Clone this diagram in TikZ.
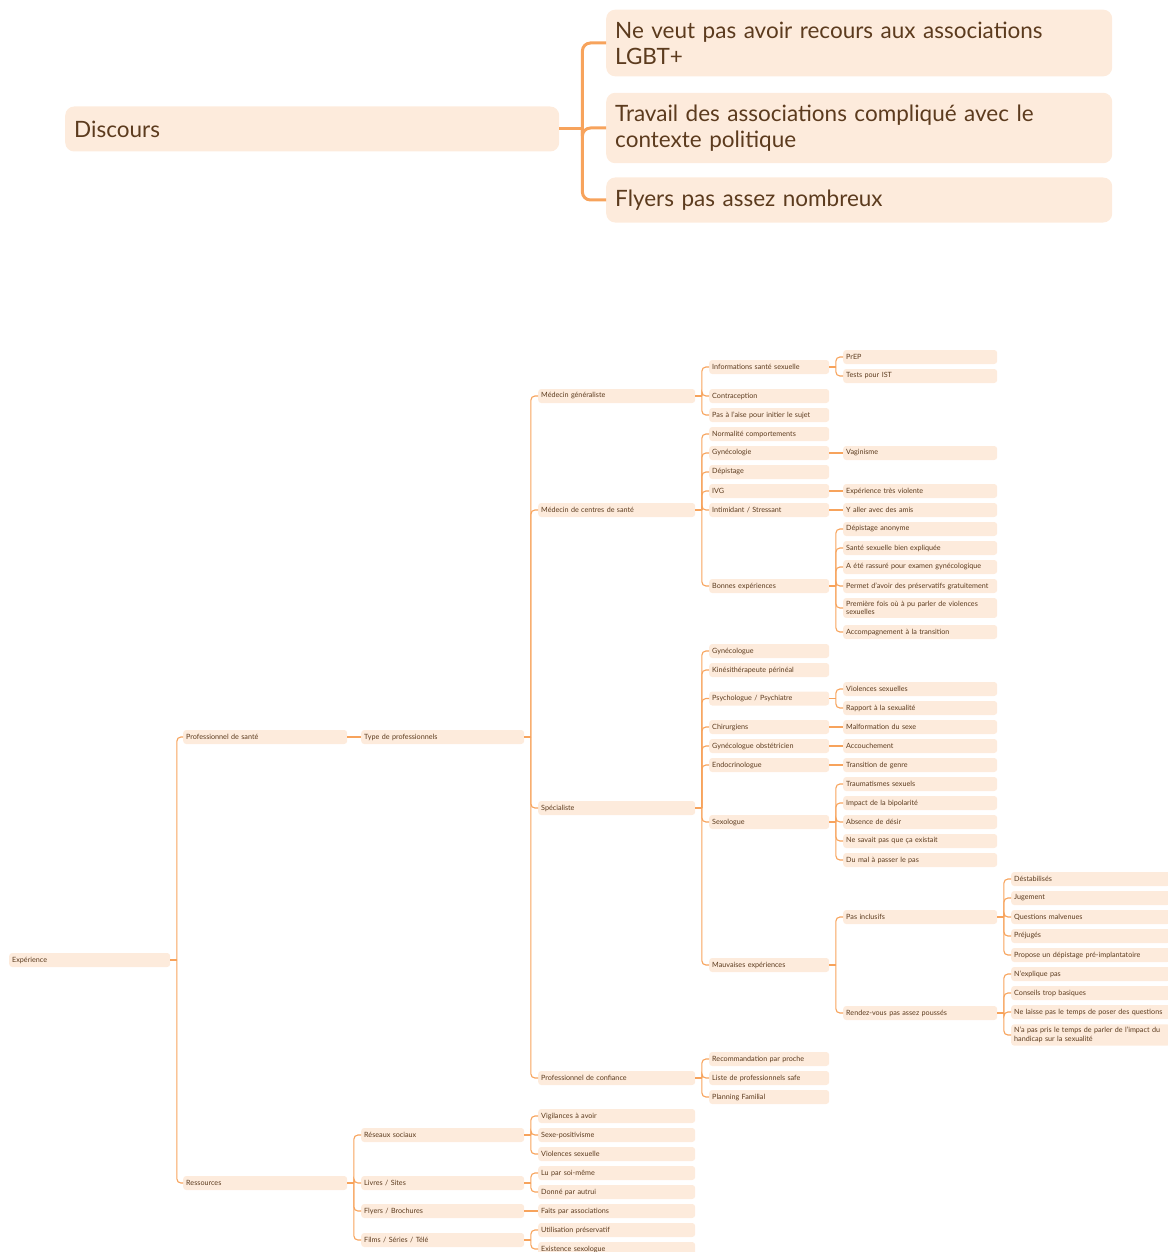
\documentclass[tikz,border=0pt]{standalone}
\usepackage{fontspec}
\setmainfont{Lato}
\definecolor{fondo}{HTML}{FDEBDC}
\definecolor{trazo}{HTML}{F7A35C}
\definecolor{letra}{HTML}{5C3B1E}

\begin{document}
\begin{tikzpicture}[
    x=1pt, y=-1pt,
    caja/.style={rectangle, rounded corners=3, fill=fondo, text=letra, anchor=west,
      inner xsep=3, inner ysep=3, minimum height=14, align=left,
      font=\fontsize{7.2}{8.6}\selectfont},
    cajaG/.style={rectangle, rounded corners=9, fill=fondo, text=letra, anchor=west,
      inner xsep=9, inner ysep=12, minimum height=45, align=left,
      font=\fontsize{22.5}{26}\selectfont},
    k0/.style={caja, text width=155pt},
    k1/.style={caja, text width=158pt},
    k2/.style={caja, text width=157pt},
    k3/.style={caja, text width=151pt},
    k4/.style={caja, text width=114pt},
    k5/.style={caja, text width=148pt},
    k6/.style={caja, text width=153pt},
    rama/.style={draw=trazo, line width=1.1pt},
    ramaG/.style={draw=trazo, line width=3pt}
  ]
  % 1 px de la captura = 1 pt; el eje y apunta hacia abajo.
  \useasboundingbox (0,0) rectangle (1167,1252);

  % --- bloque superior: discours ---
  \node[cajaG, text width=476pt] (disc) at (65,129) {Discours};
  \node[cajaG, text width=488pt] (ne)   at (606,43)
    {Ne veut pas avoir recours aux associations\\LGBT+};
  \node[cajaG, text width=488pt] (trav) at (606,128)
    {Travail des associations compliqué avec le\\contexte politique};
  \node[cajaG, text width=488pt] (fly)  at (606,200) {Flyers pas assez nombreux};

  \draw[ramaG] (disc.east) -- ++(23,0);
  \foreach \h in {ne, trav, fly}{
    \draw[ramaG, rounded corners=8] ([xshift=23]disc.east) |- (\h.west);
  }

  % --- arbre inférieur: une colonne par niveau ---
  \node[k0] (exp) at (9,960) {Expérience};
  \node[k1] (psan) at (183,737) {Professionnel de santé};
  \node[k1] (res)  at (183,1183) {Ressources};

  \foreach \n/\y/\t in {tipo/737/Type de professionnels, reseaux/1135/Réseaux sociaux,
      livres/1183/{Livres / Sites}, flyers/1211/{Flyers / Brochures},
      films/1240/{Films / Séries / Télé}}{
    \node[k2] (\n) at (361,\y) {\t};
  }

  \foreach \n/\y/\t in {medgen/396/Médecin généraliste,
      medcen/510/Médecin de centres de santé, spec/808/Spécialiste,
      conf/1078/Professionnel de confiance, vigil/1116/Vigilances à avoir,
      sexpos/1135/Sexe-positivisme, violsexl/1154/Violences sexuelle,
      lu/1173/Lu par soi-même, donne/1192/Donné par autrui,
      faits/1211/Faits par associations, preservB/1230/Utilisation préservatif,
      sexologB/1249/Existence sexologue}{
    \node[k3] (\n) at (538,\y) {\t};
  }

  \foreach \n/\y/\t in {info/367/Informations santé sexuelle, contra/396/Contraception,
      aise/415/Pas à l'aise pour initier le sujet, normal/434/Normalité comportements,
      gyneco/453/Gynécologie, depist/472/Dépistage, ivg/491/IVG,
      intim/510/{Intimidant / Stressant}, bonnes/586/Bonnes expériences,
      gyneque/651/Gynécologue, kine/670/Kinésithérapeute périnéal,
      psy/698.5/{Psychologue / Psychiatre}, chir/727/Chirurgiens,
      obst/746/Gynécologue obstétricien, endo/765/Endocrinologue,
      sexo/822/Sexologue, mauv/965/Mauvaises expériences,
      recom/1059/Recommandation par proche, liste/1078/Liste de professionnels safe,
      planning/1097/Planning Familial}{
    \node[k4] (\n) at (709,\y) {\t};
  }

  \foreach \n/\y/\t in {prep/357/PrEP, ist/376/Tests pour IST, vagin/453/Vaginisme,
      violente/491/Expérience très violente, amis/510/Y aller avec des amis,
      anonyme/529/Dépistage anonyme, expliq/548/Santé sexuelle bien expliquée,
      rassure/567/A été rassuré pour examen gynécologique,
      preserv/586/Permet d'avoir des préservatifs gratuitement,
      premiere/608/Première fois où à pu parler de violences\\sexuelles,
      accomp/632/Accompagnement à la transition,
      violsex/689/Violences sexuelles, rapport/708/Rapport à la sexualité,
      malform/727/Malformation du sexe, accouch/746/Accouchement,
      transit/765/Transition de genre, trauma/784/Traumatismes sexuels,
      bipol/803/Impact de la bipolarité, desir/822/Absence de désir,
      existait/841/Ne savait pas que ça existait, passer/860/Du mal à passer le pas,
      inclus/917/Pas inclusifs, rdv/1013/Rendez-vous pas assez poussés}{
    \node[k5] (\n) at (843,\y) {\t};
  }

  \foreach \n/\y/\t in {destab/879/Déstabilisés, jugem/898/Jugement,
      malven/917/Questions malvenues, prejug/936/Préjugés,
      implant/955/Propose un dépistage pré-implantatoire, explique/974/N'explique pas,
      basiques/993/Conseils trop basiques,
      questions/1012/Ne laisse pas le temps de poser des questions,
      handicap/1035/N'a pas pris le temps de parler de l'impact du\\handicap sur la sexualité}{
    \node[k6] (\n) at (1011,\y) {\t};
  }

  % --- ramas: tronco corto y luego un codo redondeado por hijo ---
  \foreach \p/\hs in {exp/{psan,res}, tipo/{medgen,medcen,spec,conf},
      medgen/{info,contra,aise}, info/{prep,ist},
      medcen/{normal,gyneco,depist,ivg,intim,bonnes},
      bonnes/{anonyme,expliq,rassure,preserv,premiere,accomp},
      spec/{gyneque,kine,psy,chir,obst,endo,sexo,mauv}, psy/{violsex,rapport},
      sexo/{trauma,bipol,desir,existait,passer}, mauv/{inclus,rdv},
      inclus/{destab,jugem,malven,prejug,implant},
      rdv/{explique,basiques,questions,handicap}, conf/{recom,liste,planning},
      res/{reseaux,livres,flyers,films}, reseaux/{vigil,sexpos,violsexl},
      livres/{lu,donne}, films/{preservB,sexologB}}{
    \draw[rama] (\p.east) -- ++(6.5,0);
    \foreach \h in \hs{
      \draw[rama, rounded corners=4] ([xshift=6.5]\p.east) |- (\h.west);
    }
  }
  % --- hijos únicos: trazo recto ---
  \foreach \p/\h in {psan/tipo, gyneco/vagin, ivg/violente, intim/amis,
      chir/malform, obst/accouch, endo/transit, flyers/faits}{
    \draw[rama] (\p.east) -- (\h.west);
  }
\end{tikzpicture}
\end{document}
